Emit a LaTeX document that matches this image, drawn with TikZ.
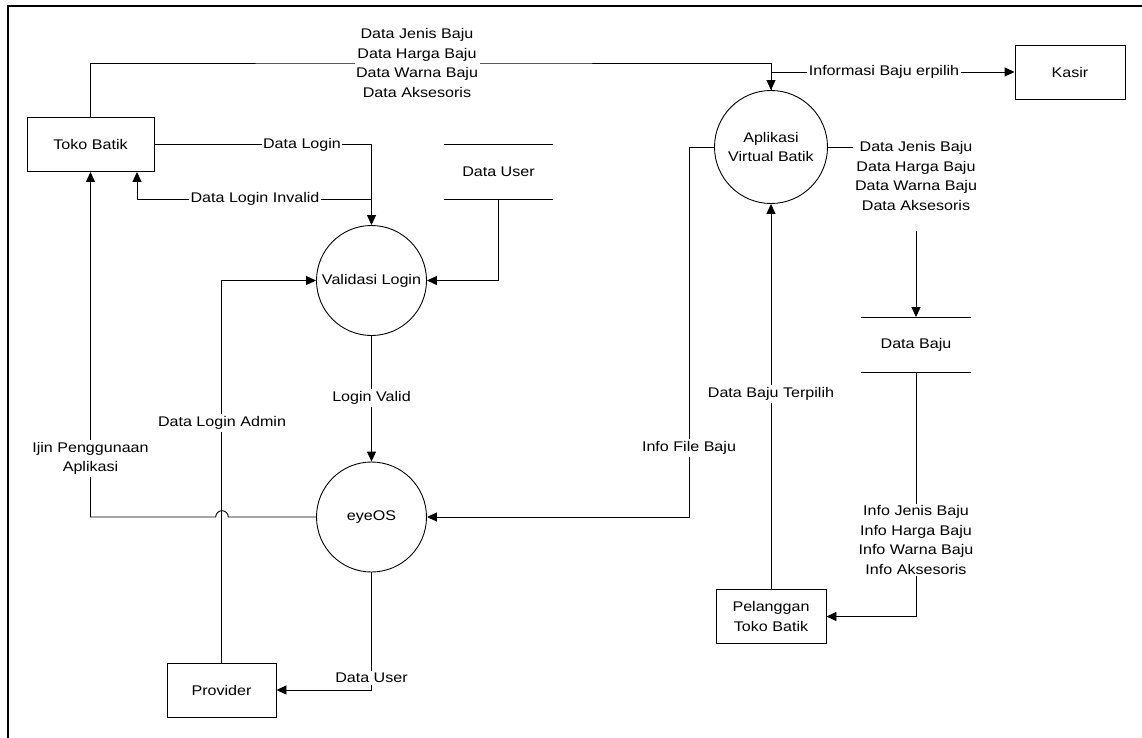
\documentclass[tikz,border=0pt]{standalone}
\usepackage{fontspec}
\setmainfont{Liberation Sans}[FakeStretch=1.15]
\usetikzlibrary{arrows.meta,calc}

\begin{document}
\begin{tikzpicture}[x=1pt,y=-1pt,
  font=\fontsize{14}{19.5}\selectfont,
  line width=0.9pt,
  ent/.style={draw,rectangle,minimum width=110pt,minimum height=54pt,inner sep=0pt,align=center},
  proc/.style={draw,circle,minimum size=110pt,inner sep=0pt,align=center},
  store/.style={minimum width=110pt,minimum height=54pt,inner sep=0pt},
  lbl/.style={fill=white,inner xsep=1.5pt,inner ysep=2pt,align=center},
  arr/.style={-{Triangle[length=10pt,width=9pt]}},
  frame/.style={line width=2.2pt}
]
\useasboundingbox (0,0) rectangle (1142,738);

% page frame (left and top edges)
\draw[frame] (8,738) -- (8,6) -- (1142,6);

% external entities
\node[ent,minimum width=127pt] (toko) at (90.5,144.5) {Toko Batik};
\node[ent] (kasir) at (1070,72) {Kasir};
\node[ent,minimum width=109pt] (prov) at (221.5,690) {Provider};
\node[ent] (pel) at (771,616.5) {Pelanggan\\Toko Batik};

% processes
\node[proc] (valid) at (371.5,280.5) {Validasi Login};
\node[proc] (eye) at (371.5,517) {eyeOS};
\node[proc,minimum size=113pt] (apl) at (771,147) {Aplikasi\\Virtual Batik};

% data stores
\node[store,minimum width=109pt] (dsuser) at (498.5,172) {Data User};
\node[store] (dsbaju) at (916,344.5) {Data Baju};
\draw (dsuser.north west) -- (dsuser.north east)
      (dsuser.south west) -- (dsuser.south east);
\draw (dsbaju.north west) -- (dsbaju.north east)
      (dsbaju.south west) -- (dsbaju.south east);

% flows
\coordinate (inv) at (371.5,199);
\coordinate (ifb) at (689,517);

\draw[arr] (toko.north) |- (417,63) -| (apl.north);
\draw[arr] (toko.east) -| (valid.north);
\draw[arr] (inv) -| ($(toko.south)+(46.5,0)$);
\draw[arr] (dsuser.south) |- (valid.east);
\draw[arr] (prov.north) |- (valid.west);
\draw[arr] (eye.west) -- (228.3,517) arc[start angle=0,end angle=180,radius=6.3pt]
           -- (90.5,517) -- (toko.south);
\draw[arr] (valid.south) -- (eye.north);
\draw[arr] (eye.south) |- (prov.east);
\draw[arr] (apl.north) |- (kasir.west);
\draw[arr] (apl.west) -| (ifb) -- (eye.east);
\draw[arr] (pel.north) -- (apl.south);
\draw[arr] (dsbaju.south) |- (pel.east);

% flow labels
\node[lbl] (lTop) at (417,63) {Data Jenis Baju\\Data Harga Baju\\Data Warna Baju\\Data Aksesoris};
\node[lbl] (lLogin) at (302,145) {Data Login};
\node[lbl] (lInv) at (255,199) {Data Login Invalid};
\node[lbl] (lAdmin) at (222,423) {Data Login Admin};
\node[lbl] (lIjin) at (90.5,458.5) {Ijin Penggunaan\\Aplikasi};
\node[lbl] (lValid) at (371.5,398) {Login Valid};
\node[lbl] (lUser) at (371.5,678) {Data User};
\node[lbl] (lInfo) at (884,72) {Informasi Baju erpilih};
\node[lbl] (lFile) at (689,448) {Info File Baju};
\node[lbl] (lTerp) at (771,394) {Data Baju Terpilih};
\node[lbl] (lRight) at (916,176) {Data Jenis Baju\\Data Harga Baju\\Data Warna Baju\\Data Aksesoris};
\node[lbl] (lInfoB) at (916,540) {Info Jenis Baju\\Info Harga Baju\\Info Warna Baju\\Info Aksesoris};

% application output to the clothing store, split by its label
\draw (apl.east) -- (apl.east -| lRight.west);
\draw[arr] ([yshift=-18pt]lRight.south) -- (dsbaju.north);
\end{tikzpicture}
\end{document}
